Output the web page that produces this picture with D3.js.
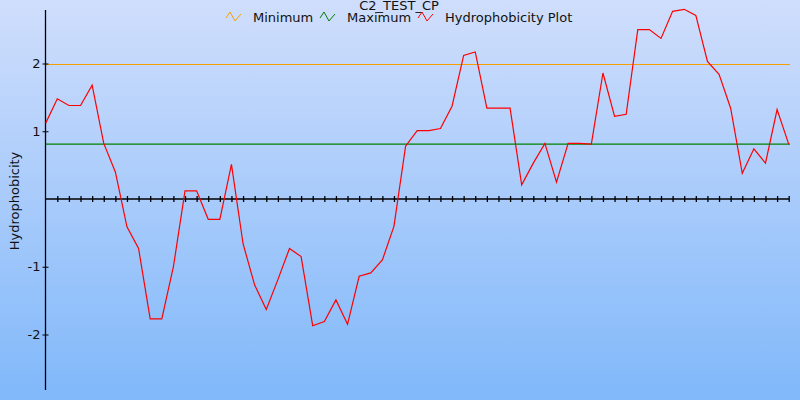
<!DOCTYPE html>
<html>
<head>
<meta charset="utf-8">
<script src="https://cdn.jsdelivr.net/npm/d3@7"></script>
<style>
html,body{margin:0;padding:0;}
svg{display:block;font-family:"DejaVu Sans",sans-serif;}
</style>
</head>
<body>
<svg id="chart" width="800" height="400"></svg>
<script>
const title = "C2_TEST_CP";
const yLabel = "Hydrophobicity";
const legendNames = ["Minimum", "Maximum", "Hydrophobicity Plot"];
const legendColors = ["#f5a000", "#008000", "#ff0000"];
const minimumValue = 2.0;
const maximumValue = 0.81;
const yTickValues = [-2, -1, 1, 2];
const yTickLabels = ["-2", "-1", "1", "2"];
const hydrophobicity = [
  1.12, 1.48, 1.38, 1.38, 1.68, 0.82, 0.40, -0.41, -0.73, -1.77,
  -1.77, -1.00, 0.12, 0.12, -0.30, -0.30, 0.51, -0.66, -1.27, -1.63,
  -1.19, -0.73, -0.85, -1.87, -1.81, -1.49, -1.85, -1.14, -1.09, -0.90,
  -0.40, 0.78, 1.01, 1.01, 1.04, 1.37, 2.12, 2.17, 1.34, 1.34,
  1.34, 0.21, 0.53, 0.82, 0.25, 0.82, 0.82, 0.81, 1.86, 1.22,
  1.25, 2.50, 2.50, 2.37, 2.77, 2.80, 2.71, 2.03, 1.84, 1.34,
  0.38, 0.74, 0.53, 1.32, 0.81
];

const W = 800, H = 400;
const svg = d3.select("#chart");

// background gradient
const defs = svg.append("defs");
const grad = defs.append("linearGradient").attr("id", "bg").attr("x1", 0).attr("y1", 0).attr("x2", 0).attr("y2", 1);
grad.append("stop").attr("offset", "0%").attr("stop-color", "rgb(208,222,252)");
grad.append("stop").attr("offset", "100%").attr("stop-color", "rgb(128,184,250)");
svg.append("rect").attr("width", W).attr("height", H).attr("fill", "url(#bg)");

const x = d3.scaleLinear().domain([0, hydrophobicity.length - 1]).range([45.7, 788.7]);
const y = d3.scaleLinear().domain([-2, 2]).range([334.5, 63.5]);

// reference lines
svg.append("line").attr("x1", 45).attr("x2", 790)
  .attr("y1", Math.round(y(minimumValue)) + 0.5).attr("y2", Math.round(y(minimumValue)) + 0.5)
  .attr("stroke", legendColors[0]).attr("stroke-width", 1);
svg.append("line").attr("x1", 45).attr("x2", 790)
  .attr("y1", y(maximumValue)).attr("y2", y(maximumValue))
  .attr("stroke", legendColors[1]).attr("stroke-width", 1.3);

// y axis
const yAxis = svg.append("g").attr("transform", "translate(45.5,0)")
  .call(d3.axisLeft(y).tickValues(yTickValues).tickSize(3).tickPadding(2)
    .tickFormat((d, i) => yTickLabels[i]));
yAxis.select(".domain").remove();
yAxis.selectAll(".tick line").attr("x1", -3).attr("x2", 3).attr("stroke", "#000");
yAxis.selectAll(".tick text").attr("font-size", 13).attr("font-family", "DejaVu Sans").attr("fill", "#111");
svg.append("line").attr("x1", 45.5).attr("x2", 45.5).attr("y1", 10).attr("y2", 390)
  .attr("stroke", "#000").attr("stroke-width", 1.3);

// x axis along zero
const xAxis = svg.append("g").attr("transform", `translate(0,${y(0)})`)
  .call(d3.axisBottom(x).tickValues(d3.range(1, hydrophobicity.length)).tickSize(3).tickFormat(""));
xAxis.select(".domain").remove();
xAxis.selectAll(".tick line").attr("y1", -3).attr("y2", 3).attr("stroke", "#000").attr("stroke-width", 1.3);
svg.append("line").attr("x1", 45).attr("x2", 789).attr("y1", y(0)).attr("y2", y(0))
  .attr("stroke", "#000").attr("stroke-width", 1.5);

// data line
svg.append("path").datum(hydrophobicity)
  .attr("fill", "none").attr("stroke", legendColors[2]).attr("stroke-width", 1.2)
  .attr("d", d3.line().x((d, i) => x(i)).y(d => y(d)));

// y label
svg.append("text").attr("transform", "translate(19,201) rotate(-90)")
  .attr("text-anchor", "middle").attr("font-size", 13).attr("fill", "#111").text(yLabel);

// title
svg.append("text").attr("x", 399).attr("y", 10).attr("text-anchor", "middle")
  .attr("font-size", 13).attr("fill", "#111").text(title);

// legend
const legendX = [226, 320, 418];
const icon = "M0,6 L4,0 L9,9 L15,2";
const lg = svg.append("g");
legendNames.forEach((name, i) => {
  lg.append("path").attr("d", icon).attr("transform", `translate(${legendX[i]},12)`)
    .attr("fill", "none").attr("stroke", legendColors[i]).attr("stroke-width", 1);
  lg.append("text").attr("x", legendX[i] + 27).attr("y", 22).attr("font-size", 13)
    .attr("fill", "#111").text(name);
});
</script>
</body>
</html>
